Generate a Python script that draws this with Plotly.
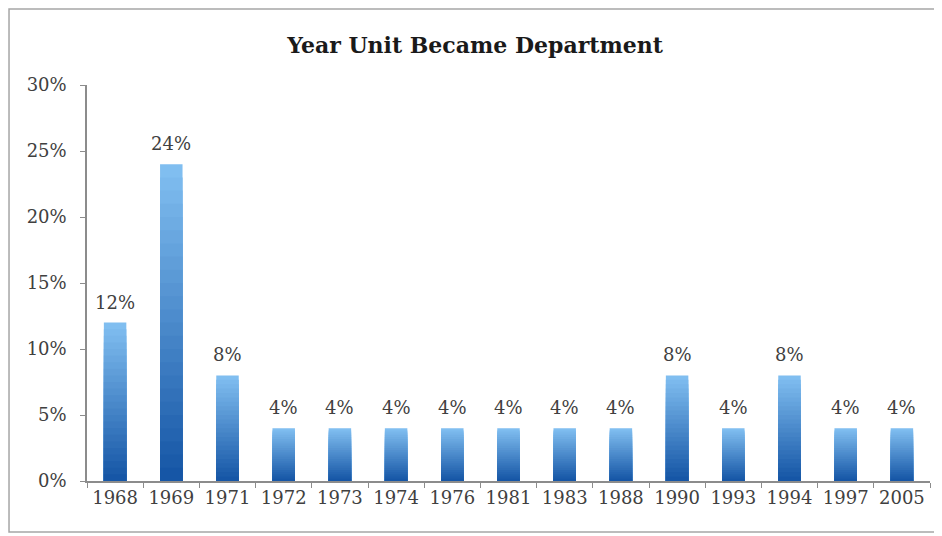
import plotly.graph_objects as go

# Dados do grafico
years = ["1968", "1969", "1971", "1972", "1973", "1974", "1976", "1981",
         "1983", "1988", "1990", "1993", "1994", "1997", "2005"]
shares = [0.12, 0.24, 0.08, 0.04, 0.04, 0.04, 0.04, 0.04,
          0.04, 0.04, 0.08, 0.04, 0.08, 0.04, 0.04]
y_ticks = [0, 0.05, 0.10, 0.15, 0.20, 0.25, 0.30]

TEXT_COLOR = "#404040"
FONT = "DejaVu Serif"

# Gradiente: claro no topo, escuro na base
LIGHT = (128, 190, 240)
DARK = (22, 86, 166)
N_STEPS = 24


def mix(t):
    r, g, b = (int(round(l + (d - l) * t)) for l, d in zip(LIGHT, DARK))
    return f"rgb({r},{g},{b})"


fig = go.Figure()

# camadas sobrepostas, cada uma mais curta e mais escura
for k in range(N_STEPS):
    frac = (N_STEPS - k) / N_STEPS
    first = k == 0
    fig.add_trace(
        go.Bar(
            x=years,
            y=[v * frac for v in shares],
            width=0.4,
            marker=dict(color=mix(k / (N_STEPS - 1)), line=dict(width=0)),
            hoverinfo="skip" if not first else None,
            hovertemplate="%{x}: %{y:.0%}<extra></extra>" if first else None,
            showlegend=False,
        )
    )

# rotulos de valor acima das barras (x pelo indice da categoria,
# senao "1968" vira posicao numerica no eixo)
annotations = [
    dict(
        x=i,
        y=v,
        xref="x",
        yref="y",
        text=f"{v:.0%}",
        showarrow=False,
        yanchor="bottom",
        yshift=8,
        font=dict(family=FONT, size=18, color=TEXT_COLOR),
    )
    for i, v in enumerate(shares)
]

# a pagina tem margem de 8px no body, por isso a figura e um pouco menor
fig.update_layout(
    barmode="overlay",
    width=934,
    height=528,
    margin=dict(l=79, r=12, t=77, b=55),
    paper_bgcolor="white",
    plot_bgcolor="white",
    font=dict(family=FONT, color=TEXT_COLOR, size=18),
    title=dict(
        text="<b>Year Unit Became Department</b>",
        x=0.5,
        xanchor="center",
        y=0.93,
        yanchor="middle",
        font=dict(family=FONT, size=22, color="#1a1a1a"),
    ),
    annotations=annotations,
    shapes=[
        dict(
            type="rect",
            xref="paper",
            yref="paper",
            x0=-0.0925,
            x1=1.0071,
            y0=-0.1288,
            y1=1.192,
            line=dict(color="#a6a6a6", width=1.5),
            fillcolor="rgba(0,0,0,0)",
            layer="below",
        )
    ],
)

fig.update_xaxes(
    type="category",
    categoryorder="array",
    categoryarray=years,
    range=[-0.5, len(years) - 0.5],
    showline=True,
    linecolor="#8c8c8c",
    linewidth=1.5,
    ticks="outside",
    tickson="boundaries",
    ticklen=5,
    tickcolor="#8c8c8c",
    showgrid=False,
    tickangle=0,
    tickfont=dict(family=FONT, size=18, color=TEXT_COLOR),
)

fig.update_yaxes(
    range=[0, 0.30],
    tickvals=y_ticks,
    tickformat=".0%",
    showline=True,
    linecolor="#8c8c8c",
    linewidth=1.5,
    ticks="outside",
    ticklen=5,
    tickcolor="#8c8c8c",
    showgrid=False,
    zeroline=False,
    ticklabelstandoff=10,
    tickfont=dict(family=FONT, size=18, color=TEXT_COLOR),
)

fig.write_html("out.html")
